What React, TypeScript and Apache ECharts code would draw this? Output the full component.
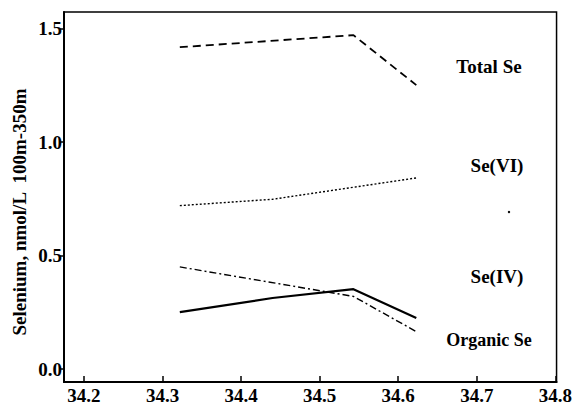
import React, { useEffect, useRef } from "react";
import * as echarts from "echarts";

const xTicks = [34.2, 34.3, 34.4, 34.5, 34.6, 34.7, 34.8];
const yTicks = [0, 0.5, 1.0, 1.5];

const totalSeX = [34.322, 34.543, 34.623];
const totalSeY = [1.418, 1.471, 1.251];

const seVIX = [34.322, 34.44, 34.623];
const seVIY = [0.72, 0.748, 0.842];

const seIVX = [34.322, 34.543, 34.623];
const seIVY = [0.45, 0.32, 0.165];

const orgSeX = [34.322, 34.44, 34.543, 34.623];
const orgSeY = [0.251, 0.313, 0.352, 0.225];

const seriesNames = ["Total Se", "Se(VI)", "Se(IV)", "Organic Se"];
const yTitle = "Selenium, nmol/L  100m-350m";

const FONT = "'Liberation Serif', 'Times New Roman', serif";

function pairs(xs: number[], ys: number[]) {
  return xs.map((x, i) => [x, ys[i]]);
}

export default function App() {
  const ref = useRef<HTMLDivElement>(null);
  useEffect(() => {
    if (!ref.current) return;
    const chart = echarts.init(ref.current, null, { renderer: "svg" });
    const labelStyle = {
      fontFamily: FONT,
      fontWeight: "bold" as const,
      fontSize: 19,
      fill: "#000",
    };
    chart.setOption({
      animation: false,
      backgroundColor: "#fff",
      grid: {
        left: 64,
        right: 17,
        top: 12,
        bottom: 29,
        show: true,
        borderColor: "#000",
        borderWidth: 1.5,
      },
      xAxis: {
        type: "value",
        min: 34.1746,
        max: 34.8015,
        splitLine: { show: false },
        axisLine: { show: true, onZero: false, lineStyle: { color: "#000", width: 2 } },
        axisTick: {
          show: true,
          inside: true,
          length: 6,
          customValues: xTicks,
          lineStyle: { color: "#000", width: 1.5 },
        },
        axisLabel: {
          customValues: xTicks,
          formatter: (v: number) => v.toFixed(1),
          color: "#000",
          fontFamily: FONT,
          fontWeight: "bold",
          fontSize: 19,
          margin: 4,
        },
      },
      yAxis: {
        type: "value",
        min: -0.057,
        max: 1.573,
        splitLine: { show: false },
        axisLine: { show: true, onZero: false, lineStyle: { color: "#000", width: 2 } },
        axisTick: {
          show: true,
          length: 4,
          customValues: yTicks,
          lineStyle: { color: "#000", width: 1.5 },
        },
        axisLabel: {
          customValues: yTicks,
          formatter: (v: number) => v.toFixed(1),
          color: "#000",
          fontFamily: FONT,
          fontWeight: "bold",
          fontSize: 19,
          margin: 2,
        },
      },
      series: [
        {
          name: seriesNames[0],
          type: "line",
          data: pairs(totalSeX, totalSeY),
          symbol: "none",
          lineStyle: { color: "#000", width: 1.8, type: [8, 5] },
        },
        {
          name: seriesNames[1],
          type: "line",
          data: pairs(seVIX, seVIY),
          symbol: "none",
          lineStyle: { color: "#000", width: 1.4, type: [2, 2] },
        },
        {
          name: seriesNames[2],
          type: "line",
          data: pairs(seIVX, seIVY),
          symbol: "none",
          lineStyle: { color: "#000", width: 1.4, type: [7, 3, 2, 3] },
        },
        {
          name: seriesNames[3],
          type: "line",
          data: pairs(orgSeX, orgSeY),
          symbol: "none",
          lineStyle: { color: "#000", width: 2.2 },
        },
      ],
      graphic: [
        {
          type: "text",
          x: 489,
          y: 66,
          style: { ...labelStyle, text: seriesNames[0], align: "center", verticalAlign: "middle" },
        },
        {
          type: "text",
          x: 497,
          y: 165,
          style: { ...labelStyle, text: seriesNames[1], align: "center", verticalAlign: "middle" },
        },
        {
          type: "text",
          x: 497,
          y: 276,
          style: { ...labelStyle, text: seriesNames[2], align: "center", verticalAlign: "middle" },
        },
        {
          type: "text",
          x: 489,
          y: 340,
          style: { ...labelStyle, fontSize: 18, text: seriesNames[3], align: "center", verticalAlign: "middle" },
        },
        {
          type: "circle",
          shape: { cx: 509, cy: 212, r: 1.2 },
          style: { fill: "#000" },
        },
        {
          type: "text",
          x: 19,
          y: 212,
          rotation: Math.PI / 2,
          style: { ...labelStyle, text: yTitle, align: "center", verticalAlign: "middle" },
        },
      ],
    });
    return () => chart.dispose();
  }, []);
  return (
    <div
      ref={ref}
      style={{ position: "fixed", left: 0, top: 0, width: 575, height: 411 }}
    />
  );
}
